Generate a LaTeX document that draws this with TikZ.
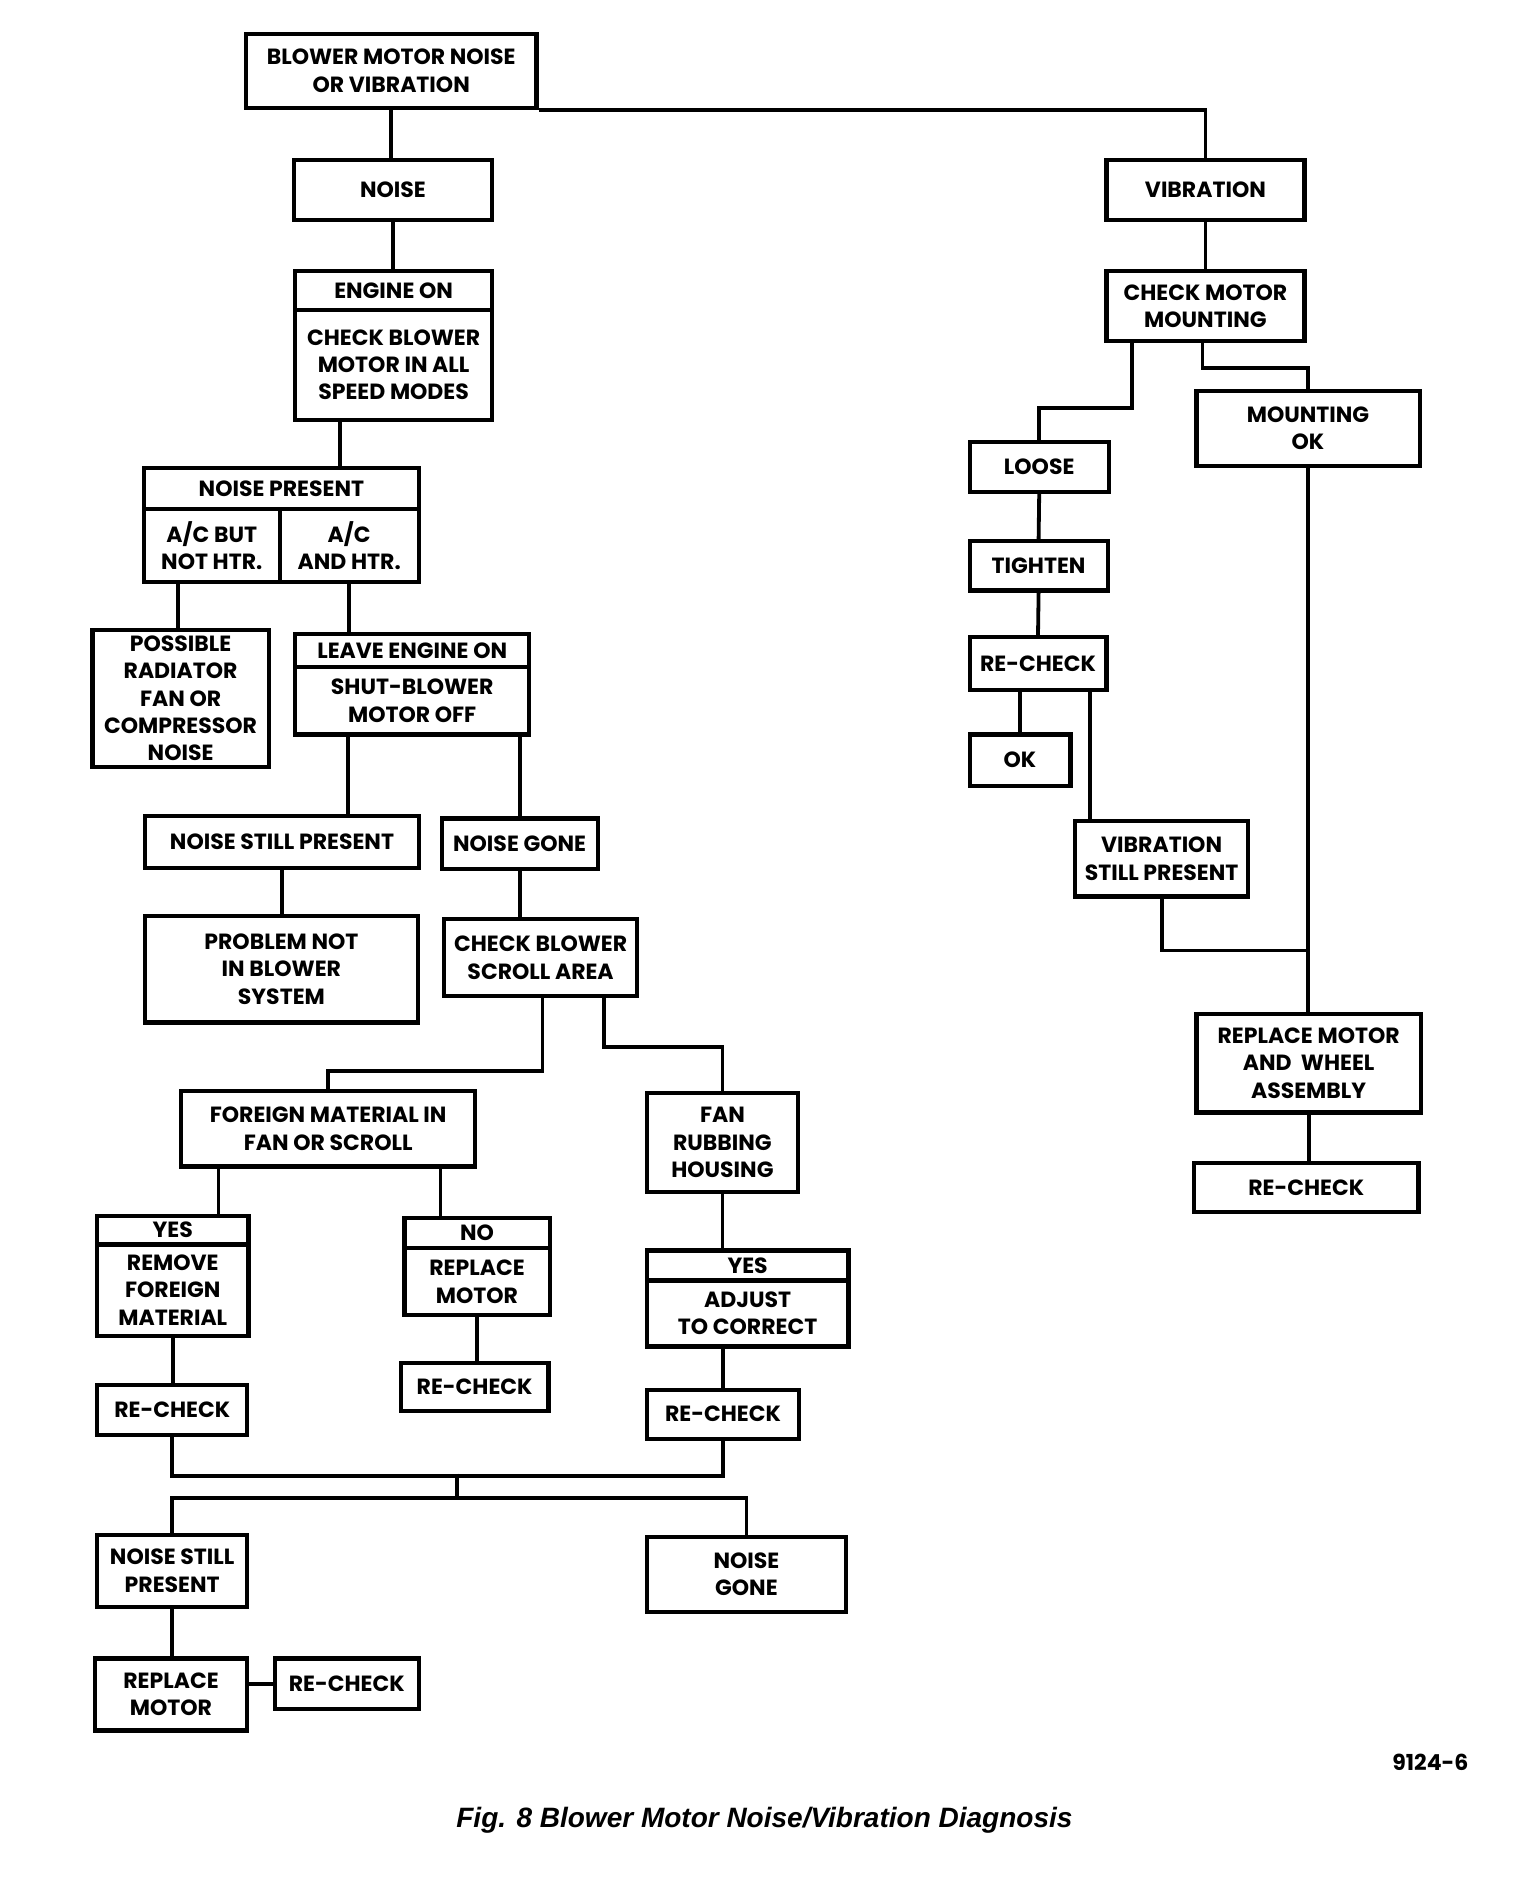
\documentclass[tikz,border=0pt]{standalone}
\usepackage{fontspec}
\setmainfont{Poppins}
\newfontfamily\legende{Liberation Sans}
\begin{document}
\begin{tikzpicture}[x=0.6pt,y=-0.6pt]
	\tikzset{boite/.style={draw, line width=2.1pt, align=center, inner sep=0pt, font=\bfseries\fontsize{11}{13.7}\selectfont},
	lien/.style={line width=1.9pt}};
	\useasboundingbox (0,0) rectangle (1280,1578.33);

	% branche bruit
	\node[boite, minimum width=145.2pt, minimum height=37.2pt] (haut) at (326,59) {BLOWER MOTOR NOISE\\OR VIBRATION};
	\node[boite, minimum width=99pt, minimum height=30pt] (bruit) at (327.5,158) {NOISE};
	\node[boite, minimum width=98.4pt, minimum height=19.2pt] (moteur) at (328,242) {ENGINE ON};
	\node[boite, minimum width=98.4pt, minimum height=55.2pt] (verif) at (328,304) {CHECK BLOWER\\MOTOR IN ALL\\SPEED MODES};
	\node[boite, minimum width=137.4pt, minimum height=20.4pt] (present) at (234.5,407) {NOISE PRESENT};
	\node[boite, minimum width=67.8pt, minimum height=36.6pt] (acbut) at (176.5,454.5) {A/C BUT\\NOT HTR.};
	\node[boite, minimum width=69.6pt, minimum height=36.6pt] (acet) at (291,454.5) {A/C\\AND HTR.};
	\node[boite, minimum width=88.2pt, minimum height=68.4pt] (radiateur) at (150.5,582) {POSSIBLE\\RADIATOR\\FAN OR\\COMPRESSOR\\NOISE};
	\node[boite, minimum width=117pt, minimum height=16.8pt] (laisser) at (343.5,542) {LEAVE ENGINE ON};
	\node[boite, minimum width=117pt, minimum height=33.6pt] (arret) at (343.5,584) {SHUT-BLOWER\\MOTOR OFF};
	\node[boite, minimum width=136.8pt, minimum height=25.8pt] (encore) at (235,701.5) {NOISE STILL PRESENT};
	\node[boite, minimum width=78pt, minimum height=25.2pt] (disparu) at (433,703) {NOISE GONE};
	\node[boite, minimum width=136.2pt, minimum height=53.4pt] (probleme) at (234.5,807.5) {PROBLEM NOT\\IN BLOWER\\SYSTEM};
	\node[boite, minimum width=96.6pt, minimum height=38.4pt] (volute) at (450.5,798) {CHECK BLOWER\\SCROLL AREA};
	\node[boite, minimum width=147pt, minimum height=37.8pt] (etranger) at (273.5,940.5) {FOREIGN MATERIAL IN\\FAN OR SCROLL};
	\node[boite, minimum width=75.6pt, minimum height=49.2pt] (frottement) at (602,952) {FAN\\RUBBING\\HOUSING};
	\node[boite, minimum width=75.6pt, minimum height=14.4pt] (oui1) at (144,1025) {YES};
	\node[boite, minimum width=75.6pt, minimum height=45.6pt] (retirer) at (144,1075) {REMOVE\\FOREIGN\\MATERIAL};
	\node[boite, minimum width=72.6pt, minimum height=15pt] (non) at (397.5,1027.5) {NO};
	\node[boite, minimum width=72.6pt, minimum height=33.6pt] (remplacer1) at (397.5,1068) {REPLACE\\MOTOR};
	\node[boite, minimum width=100.8pt, minimum height=15pt] (oui2) at (623,1054.5) {YES};
	\node[boite, minimum width=100.8pt, minimum height=33pt] (ajuster) at (623,1094.5) {ADJUST\\TO CORRECT};
	\node[boite, minimum width=75pt, minimum height=36pt] (encore2) at (143.5,1309) {NOISE STILL\\PRESENT};
	\node[boite, minimum width=99.6pt, minimum height=37.2pt] (disparu2) at (622,1312) {NOISE\\GONE};
	\node[boite, minimum width=76.2pt, minimum height=36pt] (remplacer2) at (142.5,1412) {REPLACE\\MOTOR};

	% branche vibration
	\node[boite, minimum width=99pt, minimum height=30pt] (vibr) at (1004.5,158) {VIBRATION};
	\node[boite, minimum width=99pt, minimum height=34.8pt] (montage) at (1004.5,255) {CHECK MOTOR\\MOUNTING};
	\node[boite, minimum width=111.6pt, minimum height=37.2pt] (fixok) at (1090,357) {MOUNTING\\OK};
	\node[boite, minimum width=69.6pt, minimum height=25.2pt] (lache) at (866,389) {LOOSE};
	\node[boite, minimum width=69pt, minimum height=24.6pt] (serrer) at (865.5,471.5) {TIGHTEN};
	\node[boite, minimum width=50.4pt, minimum height=25.8pt] (ok) at (850,633.5) {OK};
	\node[boite, minimum width=86.4pt, minimum height=37.8pt] (vsp) at (968,715.5) {VIBRATION\\STILL PRESENT};
	\node[boite, minimum width=112.2pt, minimum height=49.2pt] (remplmot) at (1090.5,886) {REPLACE MOTOR\\AND\ \ WHEEL\\ASSEMBLY};

	% toutes les cases re-check
	\foreach \nom/\x/\y/\w/\h in {revoir1/143.5/1175/75/25.2, revoir2/395.5/1156/73.8/24, revoir3/602.5/1178.5/76.2/24.6,
		revoir4/289/1403/72/25.2, revoir5/865/553/68.4/26.4, revoir6/1088.5/989.5/112.2/24.6}{
		\node[boite, minimum width=\w pt, minimum height=\h pt] (\nom) at (\x,\y) {RE-CHECK};
	}

	\node (numero) at (1192,1469) {\bfseries\fontsize{11}{13}\selectfont 9124-6};
	\node (titre) at (637,1517) {\legende\bfseries\itshape\fontsize{14}{16}\selectfont Fig. 8 Blower Motor Noise/Vibration Diagnosis};

	% liaisons cote bruit
	\draw[lien] (haut.south) -- (haut.south |- bruit.north);
	\draw[lien] (haut.south east) -| (vibr.north);
	\draw[lien] (bruit.south) -- (bruit.south |- moteur.north);
	\draw[lien] ([xshift=-27pt]verif.south) -- ([xshift=-27pt]verif.south |- present.north);
	\draw[lien] ([xshift=-17.1pt]acbut.south) -- ([xshift=-17.1pt]acbut.south |- radiateur.north);
	\draw[lien] (acet.south) -- (acet.south |- laisser.north);
	\draw[lien] ([xshift=-32.1pt]arret.south) -- ([xshift=-32.1pt]arret.south |- encore.north);
	\draw[lien] (disparu.north |- arret.south) -- (disparu.north);
	\draw[lien] (encore.south) -- (encore.south |- probleme.north);
	\draw[lien] (disparu.south) -- (disparu.south |- volute.north);
	\draw[lien] ([xshift=0.9pt]volute.south) -- ++(0pt,-36.6pt) -| (etranger.north);
	\draw[lien] ([xshift=31.5pt]volute.south) -- ++(0pt,-24.6pt) -| (frottement.north);
	\draw[lien] ([xshift=-54.9pt]etranger.south) -- ([xshift=-54.9pt]etranger.south |- oui1.north);
	\draw[lien] ([xshift=56.1pt]etranger.south) -- ([xshift=56.1pt]etranger.south |- non.north);
	\draw[lien] (frottement.south) -- (frottement.south |- oui2.north);
	\draw[lien] (retirer.south) -- (retirer.south |- revoir1.north);
	\draw[lien] (remplacer1.south) -- (remplacer1.south |- revoir2.north);
	\draw[lien] (revoir3.north |- ajuster.south) -- (revoir3.north);
	\draw[lien] (revoir1.south) -- ++(0pt,-19.2pt) -| (revoir3.south);
	\coordinate (milieu) at (381,1228);
	\coordinate (fourche) at (381,1248);
	\draw[lien] (milieu) -- (fourche);
	\draw[lien] (encore2.north) |- (fourche) -| (disparu2.north);
	\draw[lien] (encore2.south) -- (encore2.south |- remplacer2.north);
	\draw[lien] (revoir4.west -| remplacer2.east) -- (revoir4.west);

	% liaisons cote vibration
	\draw[lien] (vibr.south) -- (montage.north);
	\draw[lien] ([xshift=-36.9pt]montage.south) -- ++(0pt,-32.4pt) -| (lache.north);
	\draw[lien] ([xshift=-1.5pt]montage.south) -- ++(0pt,-12.6pt) -| (fixok.north);
	\draw[lien] (lache.south) -- (serrer.north);
	\draw[lien] (serrer.south) -- (revoir5.north);
	\draw[lien] (ok.north |- revoir5.south) -- (ok.north);
	\draw[lien] ([xshift=25.8pt]revoir5.south) -- ([xshift=25.8pt]revoir5.south |- vsp.north);
	\draw[lien] (fixok.south) -- (fixok.south |- remplmot.north);
	\coordinate (raccord) at (1090,792);
	\draw[lien] (vsp.south) |- (raccord);
	\draw[lien] (remplmot.south) -- (remplmot.south |- revoir6.north);
\end{tikzpicture}
\end{document}
